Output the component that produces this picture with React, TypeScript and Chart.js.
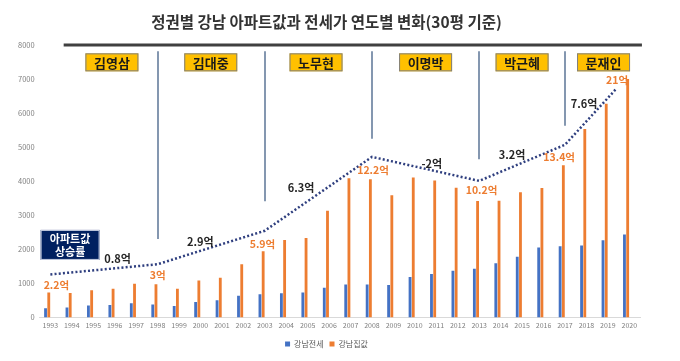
import React, { useEffect, useRef } from 'react';
import { Chart, registerables } from 'chart.js';

Chart.register(...registerables);

const FONT = '"Noto Sans CJK KR", "Noto Sans", sans-serif';

const years = ['1993','1994','1995','1996','1997','1998','1999','2000','2001','2002','2003','2004','2005','2006','2007','2008','2009','2010','2011','2012','2013','2014','2015','2016','2017','2018','2019','2020'];
const jeonse = [275, 295, 352, 370, 419, 381, 341, 457, 506, 642, 688, 717, 737, 873, 968, 968, 959, 1191, 1277, 1373, 1431, 1595, 1786, 2058, 2095, 2115, 2269, 2442];
const price = [740, 720, 800, 850, 990, 980, 850, 1090, 1170, 1566, 1950, 2277, 2335, 3136, 4090, 4060, 3590, 4110, 4020, 3810, 3420, 3430, 3680, 3800, 4470, 5535, 6277, 7000];

// dotted trend line (year position, value)
const trendYears = [1993, 1998, 2003, 2008, 2013, 2017, 2019.4];
const trendValues = [1266, 1566, 2549, 4717, 4012, 5072, 6720];

// presidential term separators
const sepYears = [1998, 2003, 2008, 2013, 2017];
const sepTop = 7818;
const sepBottoms = [2306, 3416, 5246, 4647, 5630];

// president labels
const presNames = ['김영삼', '김대중', '노무현', '이명박', '박근혜', '문재인'];
const presYears = [1995.87, 2000.48, 2005.39, 2010.5, 2015.0, 2018.8];
const presValue = 7491;

// apartment price increase per term
const gainTexts = ['0.8억', '2.9억', '6.3억', '-2억', '3.2억', '7.6억'];
const gainYears = [1996.13, 1999.99, 2004.69, 2010.79, 2014.53, 2017.89];
const gainValues = [1728, 2211, 3821, 4523, 4763, 6277];

// apartment price labels
const priceTexts = ['2.2억', '3억', '5.9억', '12.2억', '10.2억', '13.4억', '21억'];
const priceYears = [1993.28, 1998.01, 2002.89, 2008.05, 2013.11, 2016.73, 2019.43];
const priceValues = [960, 1249, 2162, 4329, 3751, 4717, 6980];

const boxLines = ['아파트값', '상승률'];
const boxYear = 1993.92;
const boxValue = 2133;

const ruleStart = 1993.62;
const ruleEnd = 2020.59;
const ruleValue = 8000;

const titleText = '정권별 강남 아파트값과 전세가 연도별 변화(30평 기준)';

const annotationPlugin = {
  id: 'termAnnotations',
  beforeDatasetsDraw(chart: any) {
    const { ctx } = chart;
    const xs = chart.scales.x2;
    const ys = chart.scales.y;
    ctx.save();
    ctx.strokeStyle = '#404040';
    ctx.lineWidth = 3;
    ctx.beginPath();
    ctx.moveTo(xs.getPixelForValue(ruleStart), ys.getPixelForValue(ruleValue));
    ctx.lineTo(xs.getPixelForValue(ruleEnd), ys.getPixelForValue(ruleValue));
    ctx.stroke();

    ctx.strokeStyle = '#8497b0';
    ctx.lineWidth = 2;
    sepYears.forEach((yr, i) => {
      const x = Math.round(xs.getPixelForValue(yr));
      ctx.beginPath();
      ctx.moveTo(x, ys.getPixelForValue(sepTop));
      ctx.lineTo(x, ys.getPixelForValue(sepBottoms[i]));
      ctx.stroke();
    });
    ctx.restore();
  },
  afterDatasetsDraw(chart: any) {
    const { ctx } = chart;
    const xs = chart.scales.x2;
    const ys = chart.scales.y;
    ctx.save();
    ctx.textAlign = 'center';
    ctx.textBaseline = 'middle';

    // president boxes
    ctx.font = `bold 13px ${FONT}`;
    presNames.forEach((name, i) => {
      const cx = xs.getPixelForValue(presYears[i]);
      const cy = ys.getPixelForValue(presValue);
      const w = 53, h = 18;
      ctx.fillStyle = '#ffc000';
      ctx.fillRect(cx - w / 2, cy - h / 2, w, h);
      ctx.strokeStyle = '#7f7f7f';
      ctx.lineWidth = 1;
      ctx.strokeRect(cx - w / 2 + 0.5, cy - h / 2 + 0.5, w - 1, h - 1);
      ctx.fillStyle = '#1a1a1a';
      ctx.fillText(name, cx, cy + 1);
    });

    // navy box
    {
      const cx = xs.getPixelForValue(boxYear);
      const cy = ys.getPixelForValue(boxValue);
      const w = 59, h = 30;
      ctx.fillStyle = '#002060';
      ctx.fillRect(cx - w / 2, cy - h / 2, w, h);
      ctx.strokeStyle = '#c9d1e3';
      ctx.lineWidth = 1;
      ctx.strokeRect(cx - w / 2 + 0.5, cy - h / 2 + 0.5, w - 1, h - 1);
      ctx.fillStyle = '#ffffff';
      ctx.font = `bold 11px ${FONT}`;
      ctx.fillText(boxLines[0], cx, cy - 6);
      ctx.fillText(boxLines[1], cx, cy + 7);
    }

    // gain labels
    ctx.font = `bold 11px ${FONT}`;
    ctx.fillStyle = '#262626';
    gainTexts.forEach((t, i) => {
      ctx.fillText(t, xs.getPixelForValue(gainYears[i]), ys.getPixelForValue(gainValues[i]));
    });

    // price labels
    ctx.font = `bold 10.5px ${FONT}`;
    ctx.fillStyle = '#ed7d31';
    priceTexts.forEach((t, i) => {
      ctx.fillText(t, xs.getPixelForValue(priceYears[i]), ys.getPixelForValue(priceValues[i]));
    });
    ctx.restore();
  },
};

export default function App() {
  const ref = useRef<HTMLCanvasElement | null>(null);

  useEffect(() => {
    if (!ref.current) return;
    const chart = new Chart(ref.current, {
      type: 'bar',
      data: {
        labels: years,
        datasets: [
          {
            label: '강남전세',
            data: jeonse,
            backgroundColor: '#4472c4',
            barPercentage: 0.88,
            categoryPercentage: 0.6,
            order: 1,
          },
          {
            label: '강남집값',
            data: price,
            backgroundColor: '#ed7d31',
            barPercentage: 0.88,
            categoryPercentage: 0.6,
            order: 1,
          },
          {
            type: 'line',
            label: 'trend',
            data: trendYears.map((x, i) => ({ x, y: trendValues[i] })),
            xAxisID: 'x2',
            borderColor: '#2f3f7f',
            borderWidth: 2.5,
            borderDash: [2, 2.2],
            pointRadius: 0,
            fill: false,
            tension: 0,
            order: 0,
          } as any,
        ],
      },
      options: {
        responsive: false,
        animation: false,
        layout: { padding: { left: 13, right: 40, top: 0, bottom: 3 } },
        plugins: {
          title: {
            display: true,
            text: titleText,
            color: '#333333',
            font: { family: FONT, size: 15.5, weight: 'bold' },
            padding: { top: 13, bottom: 13.4 },
          },
          legend: {
            position: 'bottom',
            labels: {
              filter: (item: any) => item.datasetIndex < 2,
              boxWidth: 5,
              boxHeight: 5,
              padding: 6,
              color: '#595959',
              font: { family: FONT, size: 8 },
            },
          },
          tooltip: { enabled: false },
        },
        scales: {
          x: {
            type: 'category',
            offset: true,
            grid: { display: false, drawTicks: false },
            border: { display: true, color: '#d9d9d9' },
            ticks: {
              color: '#7f7f7f',
              font: { family: FONT, size: 7 },
              padding: 4,
              maxRotation: 0,
              autoSkip: false,
            },
          },
          x2: {
            type: 'linear',
            display: false,
            offset: false,
            grid: { offset: false },
            min: 1992.5,
            max: 2020.5,
          },
          y: {
            min: 0,
            max: 8000,
            grid: { display: false, drawTicks: false },
            border: { display: false },
            ticks: {
              stepSize: 1000,
              color: '#7f7f7f',
              font: { family: FONT, size: 7.5 },
              padding: 5,
              callback: (v: any) => String(v),
            },
          },
        },
      } as any,
      plugins: [annotationPlugin],
    });
    return () => chart.destroy();
  }, []);

  return (
    <div style={{ position: 'fixed', left: 0, top: 0, width: 680, height: 361, background: '#ffffff' }}>
      <canvas ref={ref} width={680} height={361} />
    </div>
  );
}
